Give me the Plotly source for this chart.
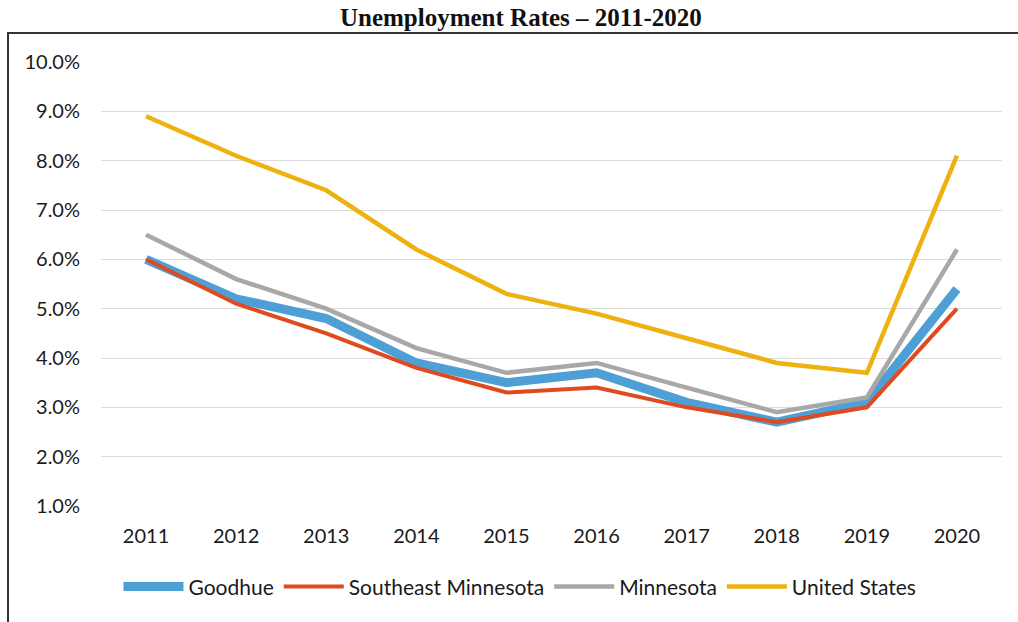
import plotly.graph_objects as go

years = ["2011", "2012", "2013", "2014", "2015", "2016", "2017", "2018", "2019", "2020"]
goodhue = [6.0, 5.2, 4.8, 3.9, 3.5, 3.7, 3.1, 2.7, 3.1, 5.4]
southeast_mn = [6.0, 5.1, 4.5, 3.8, 3.3, 3.4, 3.0, 2.7, 3.0, 5.0]
minnesota = [6.5, 5.6, 5.0, 4.2, 3.7, 3.9, 3.4, 2.9, 3.2, 6.2]
united_states = [8.9, 8.1, 7.4, 6.2, 5.3, 4.9, 4.4, 3.9, 3.7, 8.1]

series = [
    ("Goodhue", goodhue, "#4E9FD6", 9),
    ("Southeast Minnesota", southeast_mn, "#E04A1F", 4),
    ("Minnesota", minnesota, "#A8A8A8", 4.5),
    ("United States", united_states, "#EEB210", 4.5),
]

fig = go.Figure()
for name, vals, color, width in series:
    fig.add_trace(go.Scatter(
        x=years, y=vals, name=name, mode="lines",
        line=dict(color=color, width=width),
    ))

fig.update_layout(
    width=1018, height=622,
    margin=dict(l=101, r=16, t=62, b=116),
    paper_bgcolor="white", plot_bgcolor="white",
    font=dict(family="Lato, 'Open Sans', sans-serif", size=20, color="#1a1a1a"),
    title=dict(
        text="<b>Unemployment Rates – 2011-2020</b>",
        font=dict(family="Liberation Serif, serif", size=25, color="#111111"),
        x=0.466, xanchor="center", xref="paper",
        y=0.972, yanchor="middle",
    ),
    showlegend=True,
    legend=dict(
        orientation="h", x=0.465, xanchor="center", y=-0.182, yanchor="middle",
        font=dict(size=21), traceorder="normal", itemwidth=60,
    ),
)
fig.update_xaxes(
    type="category", range=[-0.5, 9.5], showgrid=False, showline=False,
    ticks="", ticklabelstandoff=16, tickfont=dict(size=20),
)
fig.update_yaxes(
    range=[1, 10], dtick=1, tick0=0, ticksuffix="%", tickformat=".1f",
    showgrid=True, gridcolor="#DCDCDC", gridwidth=1, zeroline=False,
    showline=False, ticks="", ticklabelstandoff=20, tickfont=dict(size=20),
)

# outer frame around the chart body
fig.add_shape(
    type="rect", xref="paper", yref="paper",
    x0=-0.1032, x1=1.03, y0=-0.28, y1=1.0653,
    line=dict(color="#333333", width=2), fillcolor="rgba(0,0,0,0)",
    layer="below",
)

fig.write_html("out.html")
